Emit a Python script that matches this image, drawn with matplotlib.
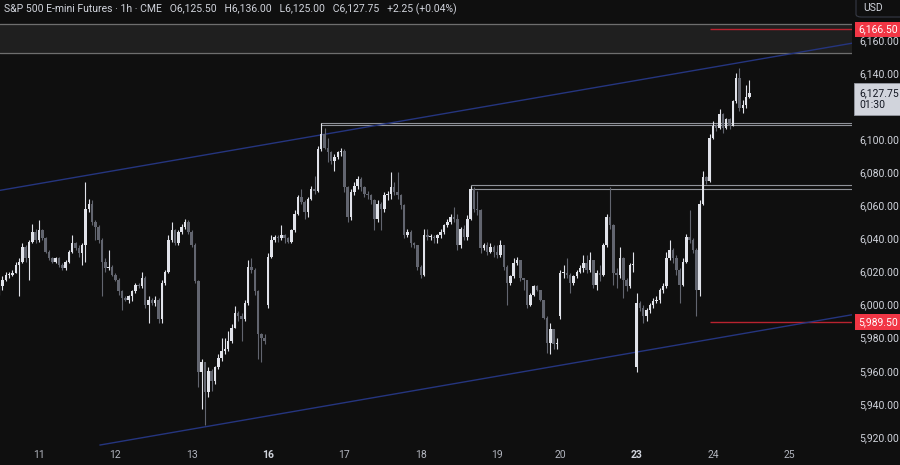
import matplotlib
matplotlib.use("Agg")
import matplotlib.pyplot as plt
import matplotlib.transforms as mtransforms
from matplotlib.patches import Rectangle, FancyBboxPatch

plt.rcParams['font.family'] = ['Roboto', 'DejaVu Sans']

# --- data: ES 1h candles (close, high, low) ---
first_open = 6007.0
closes = [
    6011, 6015, 6018, 6018, 6019, 6024, 6026, 6035, 6028, 6038, 6044, 6039,
    # 11
    6045, 6040, 6032, 6028, 6026, 6028, 6024, 6022, 6026, 6032, 6037, 6034,
    6031, 6036, 6058, 6061, 6050, 6047, 6039, 6026, 6022, 6023, 6018,
    # 12
    6015, 6008, 6004, 6003, 6005, 6008, 6012, 6011, 6016, 6000, 6003, 6001,
    6003, 5991, 6013, 6020, 6039, 6045, 6037, 6044, 6047, 6050, 6044,
    # 13
    6036, 6014, 5959, 5965, 5947, 5960, 5954, 5962, 5968, 5972, 5973, 5978,
    5986, 5995, 5993, 5991, 6001, 6023, 6021, 6008, 5982, 5980, 5978,
    # 16
    6029, 6039, 6041, 6040, 6042, 6040, 6038, 6045, 6055, 6065, 6062, 6056,
    6064, 6070, 6069, 6094, 6103, 6095, 6092, 6087, 6089, 6092, 6093,
    # 17
    6071, 6053, 6068, 6072, 6076, 6071, 6067, 6066, 6063, 6052, 6061, 6058,
    6066, 6067, 6071, 6068, 6066, 6060, 6042, 6044, 6037, 6036, 6023,
    # 18
    6018, 6042, 6041, 6041, 6040, 6042, 6044, 6048, 6050, 6053, 6052, 6036,
    6046, 6041, 6052, 6070, 6058, 6057, 6034, 6036, 6032, 6035, 6032,
    # 19
    6030, 6036, 6023, 6013, 6017, 6025, 6027, 6016, 6015, 6000, 6006, 6011,
    6009, 6003, 5992, 5977, 5985, 5976, 5977,
    # 20
    6019, 6019, 6018, 6013, 6017, 6020, 6022, 6025, 6021, 6027, 6012, 6019,
    6018, 6036, 6053, 6048, 6019, 6018, 6028, 6015, 6011, 6024, 6024,
    # 23
    6001, 5998, 5993, 5997, 6000, 6002, 6003, 6009, 6011, 6028, 6033, 6028,
    6021, 6012, 6026, 6041, 6039, 6033, 6009, 6061, 6077, 6075, 6101,
    # 24
    6108, 6107, 6115, 6107, 6112, 6108, 6123, 6137, 6119, 6121, 6125.5, 6127.75,
]
highs = [
    6013, 6017, 6020, 6020, 6021, 6026, 6028, 6037, 6036, 6039, 6049, 6046,
    6051, 6046, 6041, 6033, 6029, 6029, 6029, 6025, 6027, 6033, 6042, 6038,
    6036, 6037, 6074, 6064, 6063, 6051, 6048, 6040, 6028, 6033, 6024,
    6019, 6016, 6009, 6005, 6006, 6009, 6013, 6013, 6020, 6017, 6005, 6004,
    6005, 6004, 6015, 6021, 6042, 6050, 6046, 6045, 6049, 6052, 6051,
    6045, 6037, 6015, 5967, 5965, 5962, 5961, 5963, 5970, 5980, 5980, 5984,
    5988, 5999, 5996, 5995, 6003, 6027, 6028, 6022, 6009, 5983, 5982,
    6031, 6042, 6042, 6042, 6048, 6043, 6041, 6046, 6057, 6066, 6070, 6063,
    6065, 6072, 6078, 6096, 6110, 6107, 6101, 6093, 6091, 6093, 6095,
    6094, 6072, 6070, 6074, 6078, 6077, 6072, 6069, 6067, 6064, 6063, 6062,
    6068, 6069, 6080, 6074, 6080, 6067, 6061, 6046, 6045, 6038, 6036,
    6024, 6046, 6046, 6043, 6042, 6043, 6046, 6049, 6052, 6055, 6059, 6055,
    6047, 6048, 6054, 6072, 6071, 6069, 6058, 6037, 6038, 6037, 6036,
    6036, 6039, 6036, 6024, 6018, 6028, 6029, 6027, 6016, 6015, 6007, 6012,
    6012, 6009, 6003, 5993, 5989, 5985, 5980,
    6021, 6024, 6028, 6019, 6018, 6021, 6024, 6030, 6030, 6032, 6027, 6021,
    6024, 6037, 6055, 6071, 6049, 6022, 6035, 6029, 6016, 6025, 6032,
    6007, 6002, 6000, 5998, 6001, 6004, 6005, 6010, 6013, 6032, 6039, 6034,
    6030, 6022, 6028, 6043, 6057, 6040, 6034, 6063, 6081, 6078, 6103,
    6111, 6109, 6118, 6116, 6113, 6113, 6124, 6140, 6143, 6124, 6133, 6136,
]
lows = [
    6006, 6009, 6014, 6016, 6017, 6019, 6005, 6025, 6026, 6015, 6037, 6037,
    6038, 6039, 6031, 6027, 6025, 6025, 6023, 6021, 6021, 6025, 6031, 6033,
    6029, 6024, 6026, 6056, 6048, 6039, 6037, 6005, 6020, 6021, 6017,
    6014, 6006, 5997, 6002, 6001, 6002, 6007, 6010, 6010, 5998, 5989, 6000,
    5999, 5989, 5989, 6012, 6019, 6038, 6036, 6036, 6043, 6046, 6043,
    6035, 6013, 5950, 5937, 5927, 5944, 5948, 5952, 5961, 5966, 5970, 5972,
    5977, 5986, 5990, 5978, 5990, 6000, 6019, 6006, 5967, 5965, 5976,
    5998, 6028, 6038, 6038, 6039, 6037, 6037, 6037, 6044, 6054, 6061, 6052,
    6053, 6063, 6067, 6068, 6093, 6094, 6086, 6085, 6081, 6088, 6090,
    6068, 6050, 6051, 6066, 6070, 6069, 6065, 6064, 6061, 6045, 6050, 6045,
    6056, 6063, 6064, 6066, 6064, 6058, 6040, 6041, 6035, 6034, 6021,
    6016, 6017, 6039, 6039, 6037, 6037, 6040, 6043, 6047, 6049, 6050, 6033,
    6034, 6039, 6039, 6051, 6056, 6054, 6031, 6033, 6030, 6031, 6029,
    6028, 6029, 6021, 6000, 6012, 6016, 6024, 6014, 6009, 5998, 5999, 6005,
    6008, 6002, 5991, 5971, 5970, 5973, 5973,
    5991, 6016, 6016, 6007, 6012, 6016, 6019, 6020, 6019, 6020, 6010, 6009,
    6014, 6017, 6035, 6046, 6012, 6010, 6016, 6004, 6008, 6010, 6020,
    5959, 5996, 5989, 5990, 5995, 5998, 6001, 6001, 6007, 6010, 6027, 6025,
    6018, 6001, 6011, 6025, 6037, 6031, 5993, 6005, 6060, 6073, 6074,
    6100, 6105, 6106, 6104, 6106, 6106, 6108, 6122, 6117, 6116, 6119, 6125,
]
# sessions that opened with a gap: bar index -> open price
gap_opens = {81: 6000.0, 169: 5993.0, 192: 5962.0}

day_labels = ['11', '12', '13', '16', '17', '18', '19', '20', '23', '24', '25']
bars_per_session = [23, 23, 23, 23, 23, 23, 19, 23, 23, 23]
first_label_bar = 12
bold_days = ['16', '23']

price_ticks = [5920, 5940, 5960, 5980, 6000, 6020, 6040, 6060, 6080, 6100, 6140, 6160]

# drawings
zone = (6152.1, 6169.7)
level_rects = [(97, 6108.5, 6109.7), (142, 6069.9, 6072.1)]
red_levels = [6166.5, 5989.5]
red_start = 214
channel_upper = ([0, 257], [6069.0, 6158.1])
channel_lower = ([30.4, 257], [5915.1, 5993.9])

BG = '#0f0f0f'
UP = '#e1e3ea'
DOWN = '#62656f'
TEXT = '#d1d4dc'

# opens from previous close
opens = []
prev = first_open
for i, c in enumerate(closes):
    o = gap_opens.get(i, prev)
    opens.append(o)
    prev = c

fig = plt.figure(figsize=(9, 4.65), dpi=100, facecolor=BG)
ax = fig.add_axes([0, 19 / 465, 852 / 900, 446 / 465], facecolor=BG)

x = list(range(len(closes)))
colors = [UP if c >= o else DOWN for o, c in zip(opens, closes)]
bottoms = [min(o, c) for o, c in zip(opens, closes)]
heights = [max(abs(c - o), 0.6) for o, c in zip(opens, closes)]

ax.vlines(x, lows, highs, colors=colors, lw=0.8, zorder=3)
ax.bar(x, heights, bottom=bottoms, width=0.76, color=colors, linewidth=0, zorder=4)

# shaded zone at the top
ax.axhspan(zone[0], zone[1], color='#1f1f1f', zorder=0)
for z in zone:
    ax.axhline(z, color='#6e6e6e', lw=0.9, zorder=1)

# support/resistance boxes
for start, lo, hi in level_rects:
    ax.add_patch(Rectangle((start, lo), 300, hi - lo, fill=False,
                           edgecolor='#8f9299', lw=0.8, zorder=2))

ax.hlines(red_levels, red_start, 300, color='#b8232f', lw=1.0, zorder=2)

ax.plot(*channel_upper, color='#25357f', lw=1.0, zorder=2)
ax.plot(*channel_lower, color='#25357f', lw=1.0, zorder=2)

ax.set_xlim(0.25, 256.9)
ax.set_ylim(5914.5, 6184.2)

for s in ax.spines.values():
    s.set_visible(False)

# time axis
tick_pos = [first_label_bar]
for n in bars_per_session:
    tick_pos.append(tick_pos[-1] + n)
ax.set_xticks(tick_pos, day_labels)
ax.tick_params(axis='x', length=0, pad=3, labelsize=7.5, labelcolor='#b2b5be')
for lab in ax.get_xticklabels():
    if lab.get_text() in bold_days:
        lab.set_fontweight('bold')
        lab.set_color(TEXT)

# price axis
ax.yaxis.tick_right()
ax.set_yticks(price_ticks, [f'{v:,.2f}' for v in price_ticks])
ax.tick_params(axis='y', length=0, pad=5, labelsize=7.5, labelcolor=TEXT)

blend = mtransforms.blended_transform_factory(ax.transAxes, ax.transData)
for lv in red_levels:
    ax.text(1 + 6 / 852, lv, f'{lv:,.2f}', transform=blend, ha='left', va='center',
            fontsize=7.5, color='white', clip_on=False, zorder=10,
            bbox=dict(boxstyle='square,pad=0.25', fc='#f23645', ec='none'))

last = closes[-1]
ax.annotate(f'{last:,.2f}\n01:30', xy=(1, last), xycoords=blend,
            xytext=(5, 4), textcoords='offset points', ha='left', va='top',
            fontsize=7.5, color='#131722', linespacing=1.3, annotation_clip=False,
            zorder=10,
            bbox=dict(boxstyle='square,pad=0.45', fc='#d1d4dc', ec='#9598a1', lw=0.6))

# header and currency box
fig.text(4 / 900, 1 - 9 / 465,
         'S&P 500 E-mini Futures · 1h · CME   O6,125.50   H6,136.00   '
         'L6,125.00   C6,127.75   +2.25 (+0.04%)',
         ha='left', va='center', fontsize=7.5, color=TEXT)
fig.patches.append(FancyBboxPatch((856 / 900, 448 / 465), 50 / 900, 20 / 465,
                                  boxstyle='round,pad=0,rounding_size=0.006',
                                  transform=fig.transFigure, fc=BG,
                                  ec='#363a45', lw=0.8))
fig.text(863 / 900, 1 - 8 / 465, 'USD', ha='left', va='center',
         fontsize=7.5, color=TEXT)

fig.savefig('out.png', dpi=100, facecolor=BG)
